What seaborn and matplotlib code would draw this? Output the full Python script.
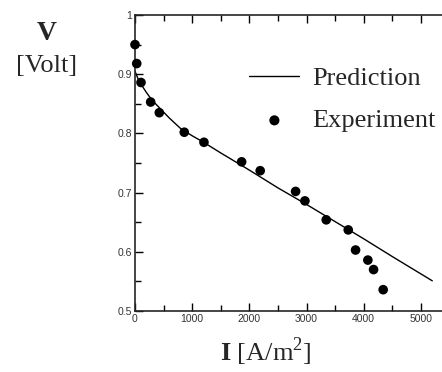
import numpy as np
import pandas as pd
import matplotlib
matplotlib.use("Agg")
import matplotlib.pyplot as plt
import seaborn as sns
from matplotlib.ticker import MultipleLocator

# Datos
pred_i = [0, 50, 100, 200, 300, 400, 600, 800, 1000, 1200, 1500, 2000,
          2500, 3000, 3500, 4000, 4500, 5200]
pred_v = [0.905, 0.893, 0.884, 0.869, 0.856, 0.846, 0.826, 0.808, 0.796,
          0.785, 0.767, 0.738, 0.708, 0.680, 0.651, 0.622, 0.592, 0.551]

exp_i = [0, 30, 105, 274, 425, 862, 1206, 1865, 2190, 2809, 2972, 3345,
         3730, 3858, 4073, 4173, 4341]
exp_v = [0.950, 0.918, 0.886, 0.853, 0.835, 0.802, 0.785, 0.752, 0.737,
         0.702, 0.686, 0.654, 0.637, 0.603, 0.586, 0.570, 0.536]

pred_df = pd.DataFrame({"I": pred_i, "V": pred_v})
exp_df = pd.DataFrame({"I": exp_i, "V": exp_v})

sns.set_style("ticks")
plt.rcParams["mathtext.fontset"] = "custom"
plt.rcParams["mathtext.rm"] = "Liberation Serif"
plt.rcParams["mathtext.bf"] = "Liberation Serif:bold"
serif = ["Liberation Serif", "DejaVu Serif"]

fig = plt.figure(figsize=(4.42, 3.72), dpi=100)
ax = fig.add_axes([135 / 442, 61 / 372, 307 / 442, 296 / 372])

sns.lineplot(pred_df, x="I", y="V", color="black", lw=1.0, ax=ax,
             label="Prediction")
sns.scatterplot(exp_df, x="I", y="V", color="black", s=48, edgecolor="none",
                ax=ax, label="Experiment", zorder=3, clip_on=False)

ax.set_xlim(0, 5370)
ax.set_ylim(0.5, 1.0)
ax.xaxis.set_major_locator(MultipleLocator(1000))
ax.xaxis.set_minor_locator(MultipleLocator(500))
ax.yaxis.set_minor_locator(MultipleLocator(0.05))
ax.set_yticks([0.5, 0.6, 0.7, 0.8, 0.9, 1.0])
ax.set_yticklabels(["0.5", "0.6", "0.7", "0.8", "0.9", "1"])
ax.tick_params(which="both", direction="in", top=True, right=False,
               labelsize=7.5, colors="black", labelcolor="#333333",
               width=1.0, pad=2)
ax.tick_params(which="major", length=6)
ax.tick_params(which="minor", length=4)
for lab in ax.get_xticklabels() + ax.get_yticklabels():
    lab.set_family(["Liberation Sans", "DejaVu Sans"])
for s in ["left", "top", "bottom"]:
    ax.spines[s].set_linewidth(1.2)
ax.spines["right"].set_visible(False)
ax.set_xlabel("")
ax.set_ylabel("")

leg = ax.legend(loc="upper left", bbox_to_anchor=(0.295, 0.905), frameon=False,
                prop={"family": serif, "size": 19}, handlelength=1.9,
                handletextpad=0.5, labelspacing=0.7, markerscale=1.05)

fig.text(47 / 442, 1 - 33 / 372, "V", ha="center", va="center",
         family=serif, fontsize=20, fontweight="bold")
fig.text(47 / 442, 1 - 66 / 372, "[Volt]", ha="center", va="center",
         family=serif, fontsize=19)
fig.text(266 / 442, 1 - 352 / 372, r"$\mathbf{I}$ [A/m$^2$]", ha="center",
         va="center", family=serif, fontsize=19)

fig.savefig("out.png", dpi=100)
